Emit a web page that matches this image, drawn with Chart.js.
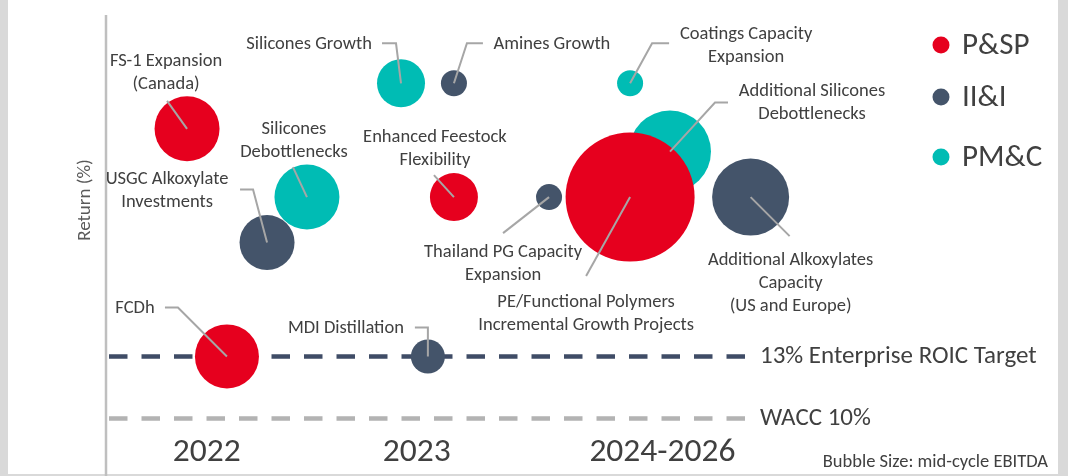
<!DOCTYPE html>
<html>
<head>
<meta charset="utf-8">
<script src="https://cdn.jsdelivr.net/npm/chart.js@4.4.1/dist/chart.umd.min.js"></script>
<style>
  html, body { margin: 0; padding: 0; background: #d9d9d9; }
  #wrap { width: 1068px; height: 476px; }
</style>
</head>
<body>
<div id="wrap"><canvas id="chart" width="1068" height="476"></canvas></div>
<script>
// --- data ---
const years = ['2022', '2023', '2024-2026'];
const yearPos = [1.0, 2.0, 3.17];

const segments = ['P&SP', 'II&I', 'PM&C'];
const segmentColors = ['#e6001e', '#44546a', '#00bcb4'];

const projects = [
  'FS-1 Expansion (Canada)', 'Silicones Debottlenecks', 'USGC Alkoxylate Investments', 'FCDh',
  'Silicones Growth', 'Amines Growth', 'Enhanced Feestock Flexibility', 'MDI Distillation',
  'Thailand PG Capacity Expansion', 'Coatings Capacity Expansion',
  'PE/Functional Polymers Incremental Growth Projects', 'Additional Silicones Debottlenecks',
  'Additional Alkoxylates Capacity (US and Europe)'
];
const projectSegment = ['P&SP', 'PM&C', 'II&I', 'P&SP', 'PM&C', 'II&I', 'P&SP', 'II&I', 'II&I', 'PM&C', 'P&SP', 'PM&C', 'II&I'];
const projectTiming = [0.906, 1.477, 1.287, 1.096, 1.925, 2.177, 2.177, 2.053, 2.63, 3.016, 3.016, 3.206, 3.59];
const projectReturn = [24.0, 20.7, 18.5, 13.0, 26.2, 26.2, 20.7, 13.0, 20.7, 26.2, 20.7, 22.9, 20.7];
const projectEbitda = [32.5, 32.5, 27.5, 32, 24, 13, 24, 17, 13, 13, 64.5, 41, 38.5];

const hurdleLabels = ['13% Enterprise ROIC Target', 'WACC 10%'];
const hurdleValues = [13, 10];
const hurdleColors = ['#3f4c66', '#b3b3b3'];

// --- layout bits (not data) ---
const xMin = 0.52, xMax = 4.33, lineEndX = 3.59;
const FONT = 'Carlito, Lato, sans-serif';
const TEXT = '#404040';

// callout text + leader offsets (px, relative to bubble centre), same order as projects
const callouts = [
  { lines: ['FS-1 Expansion', '(Canada)'], at: [-21, -67], path: [[-20, -28]] },
  { lines: ['Silicones', 'Debottlenecks'], at: [-13, -68], path: [[-14, -30]] },
  { lines: ['USGC Alkoxylate', 'Investments'], at: [-100, -63], path: [[-14, -53], [-27, -53]] },
  { lines: ['FCDh'], at: [-92, -48], path: [[-49, -49], [-62, -49]] },
  { lines: ['Silicones Growth'], at: [-92, -39], path: [[-5, -40], [-19, -40]] },
  { lines: ['Amines Growth'], at: [98, -39], path: [[13, -40], [29, -40]] },
  { lines: ['Enhanced Feestock', 'Flexibility'], at: [-19, -60], path: [[-20, -22]] },
  { lines: ['MDI Distillation'], at: [-82, -28], path: [[0, -29], [-13, -29]] },
  { lines: ['Thailand PG Capacity', 'Expansion'], at: [-46, 55], path: [[-46, 36]] },
  { lines: ['Coatings Capacity', 'Expansion'], at: [116, -49], path: [[22, -40], [39, -40]] },
  { lines: ['PE/Functional Polymers', 'Incremental Growth Projects'], at: [-44, 105], path: [[-44, 79]] },
  { lines: ['Additional Silicones', 'Debottlenecks'], at: [142, -60], path: [[45, -49], [58, -49]] },
  { lines: ['Additional Alkoxylates', 'Capacity', '(US and Europe)'], at: [40, 63], path: [[39, 39]] }
];
const legendY = [45, 97, 157];

// --- datasets ---
const bubbleSets = segments.map((seg, s) => ({
  type: 'bubble',
  label: seg,
  data: projects
    .map((p, i) => ({ x: projectTiming[i], y: projectReturn[i], r: projectEbitda[i], seg: projectSegment[i] }))
    .filter(d => d.seg === seg),
  backgroundColor: segmentColors[s],
  borderWidth: 0,
  hoverBorderWidth: 0,
  clip: false,
  order: 1
}));

const hurdleSets = hurdleValues.map((v, k) => ({
  type: 'line',
  label: hurdleLabels[k],
  data: [{ x: xMin, y: v }, { x: lineEndX, y: v }],
  borderColor: hurdleColors[k],
  borderWidth: 4.5,
  borderDash: [18.5, 14],
  borderDashOffset: -3,
  pointRadius: 0,
  fill: false,
  order: 2
}));

const decorations = {
  id: 'decorations',
  beforeDraw(chart) {
    const ctx = chart.ctx;
    ctx.save();
    ctx.fillStyle = '#d9d9d9';
    ctx.fillRect(0, 0, chart.width, chart.height);
    ctx.fillStyle = '#ffffff';
    ctx.fillRect(8, 0, 1050, 474);
    ctx.restore();
  },
  afterDatasetsDraw(chart) {
    const ctx = chart.ctx;
    const xs = chart.scales.x, ys = chart.scales.y;
    const area = chart.chartArea;
    ctx.save();

    // y axis line runs down to the frame edge
    ctx.strokeStyle = '#bfbfbf';
    ctx.lineWidth = 2.5;
    ctx.beginPath();
    ctx.moveTo(area.left, area.top);
    ctx.lineTo(area.left, 476);
    ctx.stroke();

    // axis title
    ctx.save();
    ctx.translate(85, 200);
    ctx.rotate(-Math.PI / 2);
    ctx.fillStyle = '#595959';
    ctx.font = '19px ' + FONT;
    ctx.textAlign = 'center';
    ctx.textBaseline = 'middle';
    ctx.fillText('Return (%)', 0, 0);
    ctx.restore();

    // leaders + callout labels
    projects.forEach((p, i) => {
      const cx = xs.getPixelForValue(projectTiming[i]);
      const cy = ys.getPixelForValue(projectReturn[i]);
      const c = callouts[i];
      ctx.strokeStyle = '#a6a6a6';
      ctx.lineWidth = 2;
      ctx.beginPath();
      ctx.moveTo(cx, cy);
      c.path.forEach(pt => ctx.lineTo(cx + pt[0], cy + pt[1]));
      ctx.stroke();
      ctx.fillStyle = TEXT;
      ctx.font = '18.5px ' + FONT;
      ctx.textAlign = 'center';
      ctx.textBaseline = 'middle';
      c.lines.forEach((t, j) => ctx.fillText(t, cx + c.at[0], cy + c.at[1] + j * 23));
    });

    // hurdle line labels
    ctx.font = '25px ' + FONT;
    ctx.textAlign = 'left';
    hurdleValues.forEach((v, k) => {
      ctx.fillText(hurdleLabels[k], 760, ys.getPixelForValue(v));
    });

    // legend
    chart.data.datasets.filter(d => d.type === 'bubble').forEach((d, k) => {
      ctx.fillStyle = d.backgroundColor;
      ctx.beginPath();
      ctx.arc(941, legendY[k], 8.5, 0, Math.PI * 2);
      ctx.fill();
      ctx.fillStyle = TEXT;
      ctx.font = '31px ' + FONT;
      ctx.fillText(d.label, 962, legendY[k] + 1);
    });

    // footnote
    ctx.font = '18.5px ' + FONT;
    ctx.textAlign = 'right';
    ctx.fillText('Bubble Size: mid-cycle EBITDA', 1048, 462);
    ctx.restore();
  }
};

new Chart(document.getElementById('chart'), {
  type: 'bubble',
  data: { datasets: [...bubbleSets, ...hurdleSets] },
  options: {
    responsive: false,
    animation: false,
    devicePixelRatio: 1,
    layout: { autoPadding: false, padding: { left: 106, top: 15, right: 162, bottom: 3.3 } },
    plugins: {
      legend: { display: false },
      tooltip: { enabled: false }
    },
    scales: {
      x: {
        type: 'linear',
        min: xMin,
        max: xMax,
        grid: { display: false },
        border: { display: false },
        afterBuildTicks: scale => { scale.ticks = yearPos.map(v => ({ value: v })); },
        ticks: {
          autoSkip: false,
          maxRotation: 0,
          padding: 0,
          color: TEXT,
          font: { family: FONT, size: 33.5 },
          callback: (v, i) => years[i]
        }
      },
      y: {
        type: 'linear',
        display: false,
        min: 9.71,
        max: 29.5
      }
    }
  },
  plugins: [decorations]
});
</script>
</body>
</html>
